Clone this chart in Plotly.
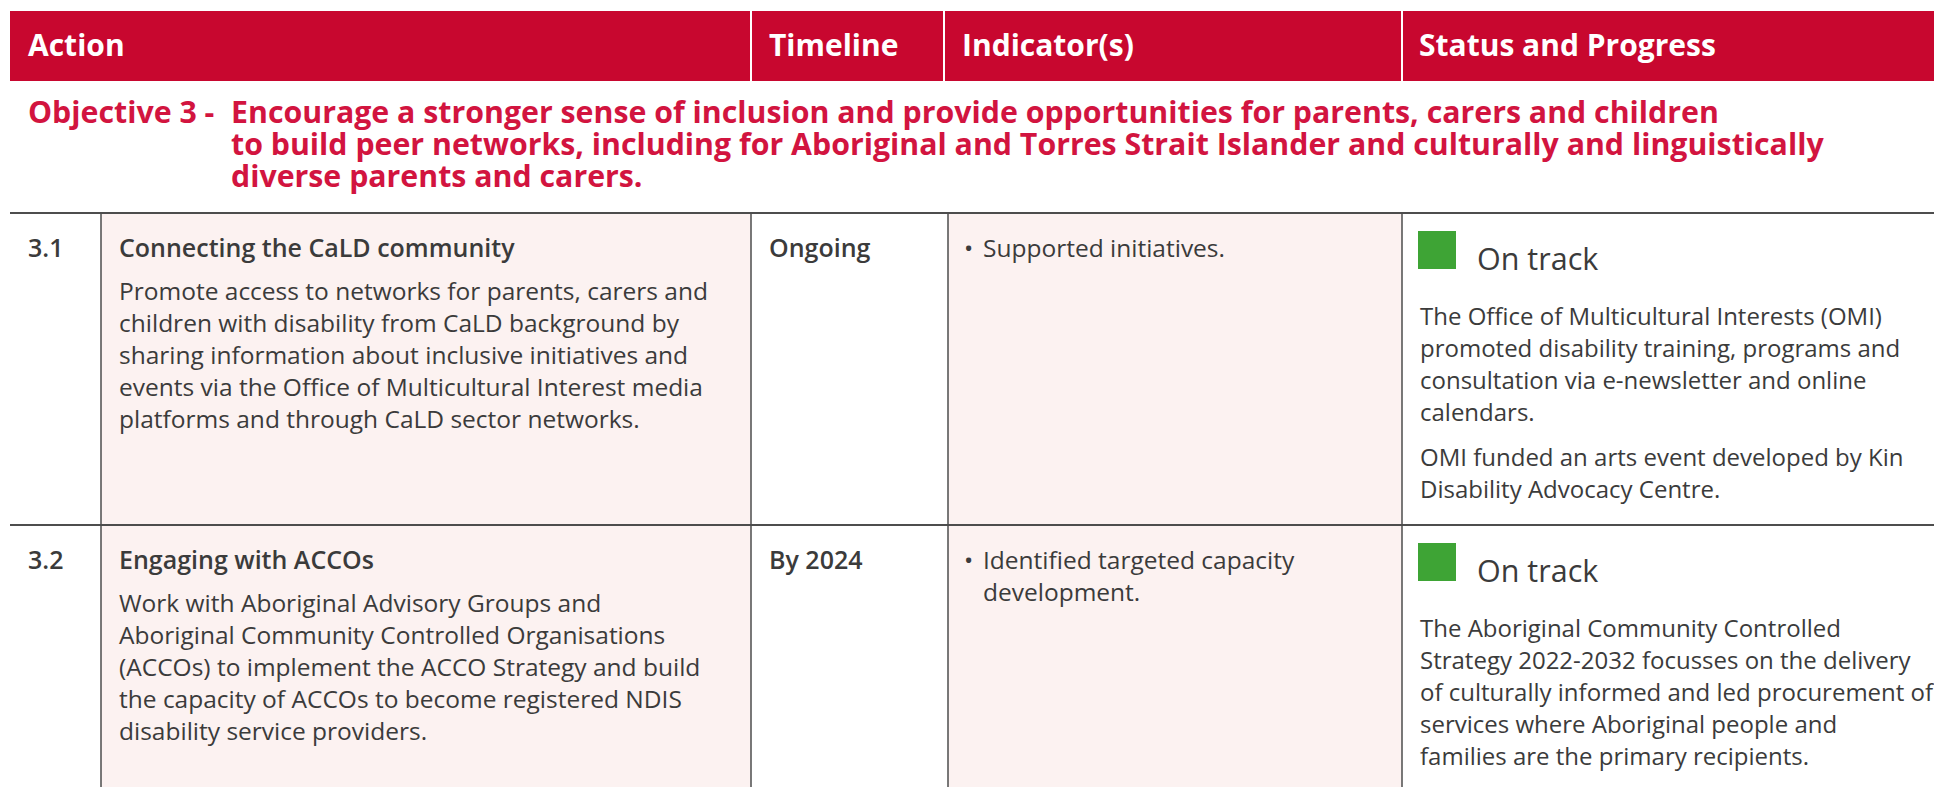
import plotly.graph_objects as go

# ---------------- data ----------------
header_labels = ["Action", "Timeline", "Indicator(s)", "Status and Progress"]
objective_prefix = "Objective 3 -"
objective_lines = [
    "Encourage a stronger sense of inclusion and provide opportunities for parents, carers and children",
    "to build peer networks, including for Aboriginal and Torres Strait Islander and culturally and linguistically",
    "diverse parents and carers.",
]
row_ids = ["3.1", "3.2"]
action_titles = ["Connecting the CaLD community", "Engaging with ACCOs"]
action_lines = [
    [
        "Promote access to networks for parents, carers and",
        "children with disability from CaLD background by",
        "sharing information about inclusive initiatives and",
        "events via the Office of Multicultural Interest media",
        "platforms and through CaLD sector networks.",
    ],
    [
        "Work with Aboriginal Advisory Groups and",
        "Aboriginal Community Controlled Organisations",
        "(ACCOs) to implement the ACCO Strategy and build",
        "the capacity of ACCOs to become registered NDIS",
        "disability service providers.",
    ],
]
timelines = ["Ongoing", "By 2024"]
indicator_lines = [
    ["Supported initiatives."],
    ["Identified targeted capacity", "development."],
]
status_labels = ["On track", "On track"]
status_paras = [
    [
        [
            "The Office of Multicultural Interests (OMI)",
            "promoted disability training, programs and",
            "consultation via e-newsletter and online",
            "calendars.",
        ],
        [
            "OMI funded an arts event developed by Kin",
            "Disability Advocacy Centre.",
        ],
    ],
    [
        [
            "The Aboriginal Community Controlled",
            "Strategy 2022-2032 focusses on the delivery",
            "of culturally informed and led procurement of",
            "services where Aboriginal people and",
            "families are the primary recipients.",
        ]
    ],
]

# ---------------- layout constants ----------------
W, H = 1934, 787
RED = "#c8072f"
OBJ_RED = "#d2143f"
TXT = "#3b3b3b"
LINE = "#4d4d4d"
PINK = "#fcf2f1"
GREEN = "#3ea435"
FONT = "Open Sans"
BODY = 24.5
STATUS = 24
BOLD = 25

header_x = [26, 767, 960, 1417]
header_sep = [751, 944, 1402]
col_lines = [101, 751, 948, 1402]
row_tops = [213, 525]
LH = 32

fig = go.Figure()
shapes = []
ann = []


def text(x, y, s, size=BODY, color=TXT, weight=400, anchor="left"):
    ann.append(dict(
        x=x, y=y, xref="x", yref="y", text=s,
        showarrow=False, xanchor=anchor, yanchor="middle",
        font=dict(family=FONT, size=size, color=color, weight=weight),
    ))


# header band
shapes.append(dict(type="rect", x0=10, x1=W, y0=11, y1=81, fillcolor=RED,
                   line=dict(width=0), layer="below"))
for xs in header_sep:
    shapes.append(dict(type="line", x0=xs, x1=xs, y0=11, y1=81,
                       line=dict(color="white", width=2)))
for xh, lab in zip(header_x, header_labels):
    text(xh, 44, lab, size=30, color="white", weight=700)

# objective
text(26, 111, objective_prefix, size=30.3, color=OBJ_RED, weight=700)
for i, ln in enumerate(objective_lines):
    text(229, 111 + i * 32, ln, size=30.3, color=OBJ_RED, weight=700)

# pink column fills
for x0, x1 in [(col_lines[0], col_lines[1]), (col_lines[2], col_lines[3])]:
    shapes.append(dict(type="rect", x0=x0, x1=x1, y0=row_tops[0], y1=H,
                       fillcolor=PINK, line=dict(width=0), layer="below"))
# grid lines
for yt in row_tops:
    shapes.append(dict(type="line", x0=10, x1=W, y0=yt, y1=yt,
                       line=dict(color=LINE, width=2)))
for xl in col_lines:
    shapes.append(dict(type="line", x0=xl, x1=xl, y0=row_tops[0], y1=H,
                       line=dict(color=LINE, width=1.5)))

# rows
for r, top in enumerate(row_tops):
    ty = top + 34
    text(26, ty, row_ids[r], size=BOLD, weight=600)
    text(117, ty, action_titles[r], size=BOLD, weight=600)
    for i, ln in enumerate(action_lines[r]):
        text(117, top + 77 + i * LH, ln)
    text(767, ty, timelines[r], size=BOLD, weight=600)
    text(962, ty, "•")
    for i, ln in enumerate(indicator_lines[r]):
        text(981, ty + i * LH, ln)
    shapes.append(dict(type="rect", x0=1418, x1=1456, y0=top + 18, y1=top + 56,
                       fillcolor=GREEN, line=dict(width=0)))
    text(1475, top + 45, status_labels[r], size=30.5)
    y = top + 102
    for p, para in enumerate(status_paras[r]):
        for ln in para:
            text(1418, y, ln, size=STATUS)
            y += LH
        y += 13

fig.update_layout(
    width=W, height=H, margin=dict(l=0, r=0, t=0, b=0),
    paper_bgcolor="white", plot_bgcolor="white",
    xaxis=dict(range=[0, W], visible=False, fixedrange=True),
    yaxis=dict(range=[H, 0], visible=False, fixedrange=True),
    shapes=shapes, annotations=ann, showlegend=False,
)

fig.write_html("out.html", config={"displayModeBar": False},
               post_script="document.body.style.margin='0';document.body.style.overflow='hidden';")
